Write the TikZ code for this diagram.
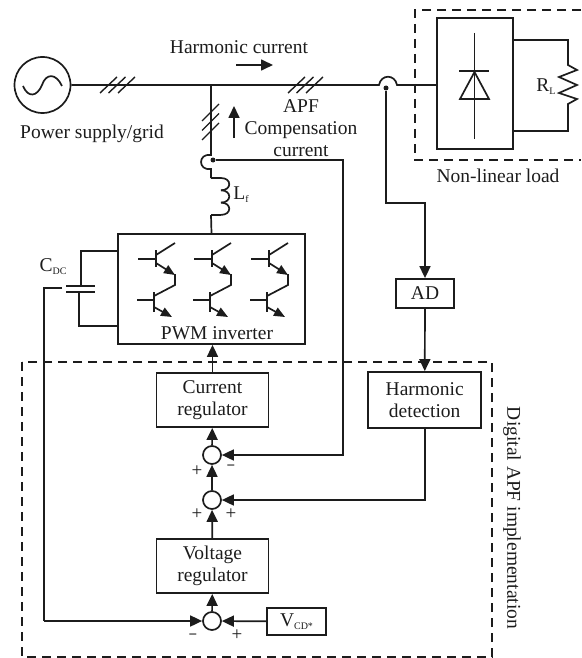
\documentclass[tikz,border=0pt]{standalone}
\usepackage{fontspec}
\setmainfont{Liberation Serif}
\usepackage{tikz}
\usetikzlibrary{positioning,arrows.meta}
\definecolor{ink}{RGB}{28,28,28}
\newcommand{\lowtxt}[1]{\raisebox{-3pt}{\fontsize{10}{10}\selectfont #1}}
\begin{document}
\begin{tikzpicture}[x=1pt,y=-1pt,
  wire/.style={draw=ink,line width=1.7pt},
  sig/.style={wire,-{Triangle[length=12pt,width=11pt]}},
  emit/.style={wire,-{Triangle[length=11pt,width=9pt]}},
  frame/.style={draw=ink,line width=1.9pt,dash pattern=on 9pt off 6pt},
  box/.style={draw=ink,line width=1.8pt,minimum width=112pt,minimum height=54pt,
     inner sep=0pt,align=center,text=ink,font=\fontsize{19.5}{22}\selectfont},
  sumc/.style={draw=ink,line width=1.7pt,circle,minimum size=18pt,inner sep=0pt},
  dotc/.style={fill=ink,circle,minimum size=5pt,inner sep=0pt},
  txt/.style={text=ink,inner sep=0pt,align=center,font=\fontsize{19.5}{22}\selectfont},
  sign/.style={text=ink,inner sep=0pt,font=\fontsize{19}{19}\selectfont},
  minus/.style={sign,font=\fontsize{15}{15}\selectfont\bfseries}]
\useasboundingbox (0,0) rectangle (581,658);
\node[sumc,minimum size=56pt] (src) at (42.5,85) {};
\draw[wire] (23,86) .. controls (28,98) and (37,97) .. (42,85) .. controls (46,73) and (56,73) .. (62,86);
\node[box,minimum width=76pt,minimum height=131pt] (rect) at (475,83.5) {};
\node[box,minimum width=187pt,minimum height=110pt] (inv) at (211.5,289) {};
\node[box,minimum width=58pt,minimum height=29pt] (ad) at (425,293.5) {AD};
\node[box,minimum width=113pt,minimum height=56pt] (harm) at (424.7,400) {Harmonic\\detection};
\node[box] (creg) at (212.5,400) {Current\\regulator};
\node[box] (vreg) at (212.5,566) {Voltage\\regulator};
\node[box,minimum width=59pt,minimum height=27pt] (vcd) at (296.5,621.5) {V\lowtxt{CD*}};
\node[sumc] (s1) at (212,455) {};
\node[sumc] (s2) at (212,500) {};
\node[sumc] (s3) at (212,621) {};
\node[dotc] (dotl) at (386,88) {};
\node[dotc] (dotc) at (213,160) {};
\coordinate (j1) at (379,85);
\coordinate (j2) at (397,85);
\coordinate (tap) at (211,85);
\coordinate (j3) at (211,155);
\coordinate (j4) at (211,169);
\coordinate (lf1) at (211,178);
\coordinate (lf2) at (211,215);
\coordinate (adin) at (425,203);
\coordinate (fb) at (343,455);
\coordinate (cup) at (118,251);
\coordinate (cdn) at (118,326);
\coordinate (plup) at (81,286);
\coordinate (pldn) at (79,292);
\coordinate (ctl) at (62,288);
\coordinate (ctc) at (44,621);
% main line and tap
\draw[wire] (src) -- (j1) .. controls (381,74) and (395,74) .. (j2) -- (rect.west |- j2);
\draw[wire] (tap) -- (j3) .. controls (197.7,153) and (197.7,171) .. (j4) -- (lf1);
\draw[wire] (lf2) -- (inv.north);
\draw[wire] (lf1) -- (221,178);
\foreach \y in {178,190.3,202.6}
  \draw[wire] (221,\y) .. controls (232,\y) and (232,\y+12.3) .. (221,\y+12.3);
\draw[wire] (221,215) -- (lf2);
\foreach \a in {0,8.5,18}{
  \draw[wire,line width=1.4pt] (100+\a,93) -- (117+\a,77);
  \draw[wire,line width=1.4pt] (288+\a,93) -- (305+\a,77);}
\foreach \y in {121,130.5,140}
  \draw[wire,line width=1.4pt] (202,\y) -- (219,\y-17);
% load
\draw[frame] (581,10) -| (415,160) -- (581,160);
\draw[wire] (474.5,33) -- (474.5,139);
\draw[wire] (459,71) -- (489,71);
\draw[wire] (474.5,72) -- (460,99) -- (489,99) -- cycle;
\draw[wire] (513,40) -| (568,65) -- (577,70) -- (559,77) -- (577,85) -- (559,93) -- (577,99) -- (568,104) |- (513,131);
% inverter legs
\foreach \c in {0,56,113}{
  \draw[wire] (138+\c,259) -- (156+\c,259);
  \draw[wire] (156+\c,250) -- (156+\c,267);
  \draw[wire] (156+\c,255) -- (175+\c,243);
  \draw[emit] (156+\c,263) -- (175+\c,275);
  \draw[wire] (175+\c,274) -- (175+\c,285) -- (154+\c,296);
  \draw[wire] (137+\c,300) -- (154+\c,300);
  \draw[wire] (154+\c,292) -- (154+\c,312);
  \draw[emit] (154+\c,307) -- (172+\c,317);}
\draw[wire] (cup) -| (plup);
\draw[wire] (pldn) |- (cdn);
\draw[wire] (66,286) -- (95,286);
\draw[wire] (66,292) -- (95,292);
\draw[wire] (ctl) -| (ctc);
% signal arrows
\draw[sig] (ctc) -- (s3);
\draw[sig] (vcd) -- (s3);
\draw[sig] (s3) -- (vreg);
\draw[sig] (vreg) -- (s2);
\draw[sig] (s2) -- (s1);
\draw[sig] (s1) -- (creg);
\draw[sig] (creg) -- (creg |- inv.south);
\draw[sig] (dotc) -| (fb) -- (s1);
\draw[sig] (harm.south) |- (s2);
\draw[sig] (ad) -- (harm);
\draw[sig] (dotl) |- (adin) -- (ad);
\draw[frame] (22,362) rectangle (492,657);
% labels
\coordinate (ha1) at (236,65);
\coordinate (ha2) at (273,65);
\coordinate (ca1) at (234,138);
\coordinate (ca2) at (234,106);
\draw[sig] (ha1) -- (ha2);
\draw[sig] (ca1) -- (ca2);
\node[txt] (hlab) at (239,47) {Harmonic current};
\node[txt] (apf) at (301,128) {APF\\Compensation\\current};
\node[txt] (grid) at (92,134) {Power supply/grid};
\node[txt] (llab) at (241,195) {L\lowtxt{f}};
\node[txt] (rlab) at (546,87) {R\lowtxt{L}};
\node[txt] (nll) at (498,176) {Non-linear load};
\node[txt] (pwm) at (217,333) {PWM inverter};
\node[txt] (cdc) at (53,267) {C\lowtxt{DC}};
\node[txt,rotate=-90] (dig) at (512,518) {Digital APF implementation};
\node[sign] (p1) at (197,471) {+};
\node[minus] (m1) at (231,468) {−};
\node[sign] (p2) at (197,514) {+};
\node[sign] (p3) at (231,514) {+};
\node[minus] (m2) at (193,637) {−};
\node[sign] (p4) at (237,635) {+};
\end{tikzpicture}
\end{document}
